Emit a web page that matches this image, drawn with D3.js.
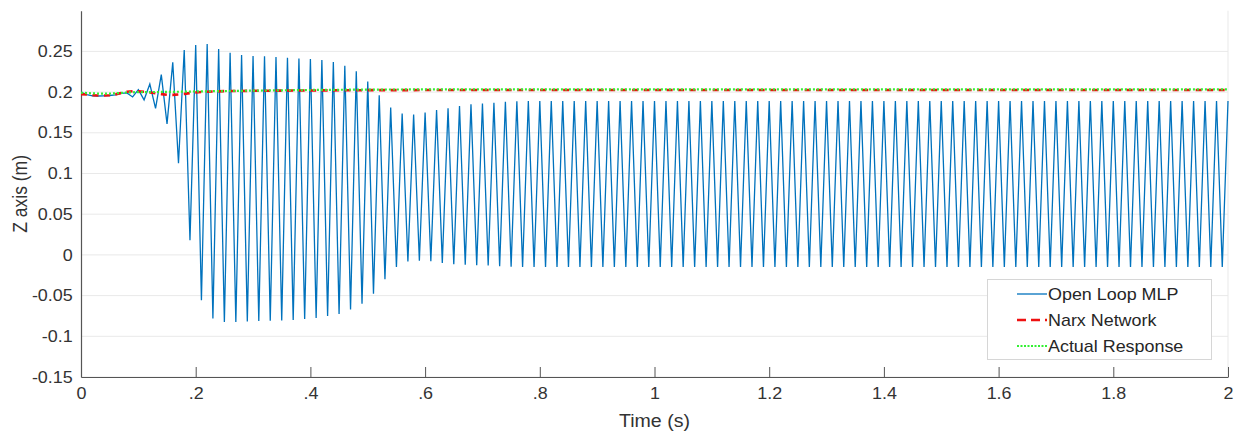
<!DOCTYPE html>
<html>
<head>
<meta charset="utf-8">
<script src="https://cdn.jsdelivr.net/npm/d3@7"></script>
<style>
  html, body { margin: 0; padding: 0; background: #ffffff; }
  svg { display: block; font-family: "Liberation Sans", Arial, sans-serif; }
</style>
</head>
<body>
<svg id="chart" width="1235" height="433"></svg>
<script>
// ---------------- data ----------------
const sampleStep = 0.01; // s between samples of the open-loop MLP trace

const openLoopMLP = [
  0.2000, 0.1970, 0.1955, 0.1952, 0.1953, 0.1958, 0.1965, 0.1985, 0.1990, 0.1940,
  0.2030, 0.1905, 0.2098, 0.1800, 0.2215, 0.1610, 0.2365, 0.1125, 0.2517, 0.0180,
  0.2578, -0.0558, 0.2590, -0.0780, 0.2529, -0.0825, 0.2483, -0.0825, 0.2455, -0.0817,
  0.2443, -0.0813, 0.2439, -0.0810, 0.2430, -0.0805, 0.2422, -0.0800, 0.2414, -0.0788,
  0.2406, -0.0776, 0.2394, -0.0751, 0.2369, -0.0727, 0.2324, -0.0670, 0.2255, -0.0599,
  0.2130, -0.0476, 0.1962, -0.0300, 0.1810, -0.0148, 0.1738, -0.0082, 0.1726, -0.0071,
  0.1750, -0.0079, 0.1779, -0.0100, 0.1800, -0.0115, 0.1828, -0.0120, 0.1849, -0.0128,
  0.1861, -0.0131, 0.1869, -0.0140, 0.1881, -0.0145, 0.1887, -0.0147, 0.1890, -0.0148,
  0.1890, -0.0148, 0.1890, -0.0148, 0.1890, -0.0148, 0.1890, -0.0148, 0.1890, -0.0148,
  0.1890, -0.0148, 0.1890, -0.0148, 0.1890, -0.0148, 0.1890, -0.0148, 0.1890, -0.0148,
  0.1890, -0.0148, 0.1890, -0.0148, 0.1890, -0.0148, 0.1890, -0.0148, 0.1890, -0.0148,
  0.1890, -0.0148, 0.1890, -0.0148, 0.1890, -0.0148, 0.1890, -0.0148, 0.1890, -0.0148,
  0.1890, -0.0148, 0.1890, -0.0148, 0.1890, -0.0148, 0.1890, -0.0148, 0.1890, -0.0148,
  0.1890, -0.0148, 0.1890, -0.0148, 0.1890, -0.0148, 0.1890, -0.0148, 0.1890, -0.0148,
  0.1890, -0.0148, 0.1890, -0.0148, 0.1890, -0.0148, 0.1890, -0.0148, 0.1890, -0.0148,
  0.1890, -0.0148, 0.1890, -0.0148, 0.1890, -0.0148, 0.1890, -0.0148, 0.1890, -0.0148,
  0.1890, -0.0148, 0.1890, -0.0148, 0.1890, -0.0148, 0.1890, -0.0148, 0.1890, -0.0148,
  0.1890, -0.0148, 0.1890, -0.0148, 0.1890, -0.0148, 0.1890, -0.0148, 0.1890, -0.0148,
  0.1890, -0.0148, 0.1890, -0.0148, 0.1890, -0.0148, 0.1890, -0.0148, 0.1890, -0.0148,
  0.1890, -0.0148, 0.1890, -0.0148, 0.1890, -0.0148, 0.1890, -0.0148, 0.1890, -0.0148,
  0.1890
];

const narxTime = [0, 0.01, 0.02, 0.03, 0.04, 0.05, 0.06, 0.07, 0.08, 0.09, 0.10, 0.11, 0.12, 0.13, 0.14,
                  0.15, 0.16, 0.17, 0.18, 0.19, 0.20, 0.22, 0.25, 0.30, 0.40, 0.50, 0.60, 1.00, 2.00];
const narxNetwork = [0.1975, 0.1970, 0.1962, 0.1958, 0.1958, 0.1962, 0.1972, 0.1990, 0.2005, 0.2010,
                     0.2010, 0.2005, 0.1995, 0.1985, 0.1975, 0.1968, 0.1966, 0.1970, 0.1978, 0.1988,
                     0.1996, 0.2005, 0.2012, 0.2016, 0.2020, 0.2024, 0.2025, 0.2025, 0.2025];

const actualTime = [0, 0.02, 0.04, 0.06, 0.08, 0.10, 0.15, 0.20, 0.30, 0.40, 0.50, 0.60, 2.00];
const actualResponse = [0.1992, 0.1985, 0.1980, 0.1985, 0.1995, 0.2000, 0.2002, 0.2008, 0.2018,
                        0.2026, 0.2031, 0.2033, 0.2033];

const xTicks = [0, 0.2, 0.4, 0.6, 0.8, 1, 1.2, 1.4, 1.6, 1.8, 2];
const xTickLabels = ["0", ".2", ".4", ".6", ".8", "1", "1.2", "1.4", "1.6", "1.8", "2"];
const yTicks = [-0.15, -0.1, -0.05, 0, 0.05, 0.1, 0.15, 0.2, 0.25];
const yTickLabels = ["-0.15", "-0.1", "-0.05", "0", "0.05", "0.1", "0.15", "0.2", "0.25"];

const seriesNames = ["Open Loop MLP", "Narx Network", "Actual Response"];
const seriesColors = ["#0072BD", "#ee1111", "#33f033"];

// ---------------- layout ----------------
(function draw() {
const svg = d3.select("#chart");
const pL = 81, pR = 1228, pT = 10.7, pB = 377;
const stretch = 1.12;
const textColor = "#333333";

const x = d3.scaleLinear().domain([0, 2]).range([pL, pR]);
const y = d3.scaleLinear().domain([-0.15, 0.3]).range([pB, pT]);

// gridlines
svg.append("g").selectAll("line").data(yTicks).join("line")
  .attr("x1", pL).attr("x2", pR)
  .attr("y1", d => y(d)).attr("y2", d => y(d))
  .attr("stroke", "#e9e9e9").attr("stroke-width", 1);
svg.append("line")
  .attr("x1", x(2)).attr("x2", x(2)).attr("y1", pT).attr("y2", pB)
  .attr("stroke", "#e9e9e9").attr("stroke-width", 1);

// x axis
const xAxis = d3.axisBottom(x).tickValues(xTicks)
  .tickFormat((d, i) => xTickLabels[i]).tickSizeInner(-10).tickSizeOuter(0);
const gx = svg.append("g").attr("transform", `translate(0,${pB})`).call(xAxis);
gx.select(".domain").attr("stroke", "#555").attr("stroke-width", 1.2);
gx.selectAll(".tick line").attr("stroke", "#555").attr("stroke-width", 1);
gx.selectAll(".tick text")
  .attr("y", 10.5).attr("fill", textColor).attr("font-size", 16)
  .attr("font-family", "Liberation Sans, Arial, sans-serif")
  .attr("transform", `scale(${stretch},1)`);

// y axis
const yAxis = d3.axisLeft(y).tickValues(yTicks)
  .tickFormat((d, i) => yTickLabels[i]).tickSizeInner(0).tickSizeOuter(0).tickPadding(8);
const gy = svg.append("g").attr("transform", `translate(${pL},0)`).call(yAxis);
gy.select(".domain").attr("stroke", "#555").attr("stroke-width", 1.2);
gy.selectAll(".tick text")
  .attr("x", -8.3 / stretch).attr("fill", textColor).attr("font-size", 16)
  .attr("font-family", "Liberation Sans, Arial, sans-serif")
  .attr("transform", `scale(${stretch},1)`);

// axis titles
svg.append("text")
  .attr("transform", `translate(${(pL + pR) / 2},427) scale(${stretch},1)`)
  .attr("text-anchor", "middle").attr("fill", textColor).attr("font-size", 17.5)
  .text("Time (s)");
svg.append("text")
  .attr("transform", `translate(27,${(pT + pB) / 2}) rotate(-90) scale(1,${stretch})`)
  .attr("text-anchor", "middle").attr("fill", textColor).attr("font-size", 17.5)
  .text("Z axis (m)");

// ---------------- series ----------------
svg.append("clipPath").attr("id", "plotclip").append("rect")
  .attr("x", pL).attr("y", pT - 2).attr("width", pR - pL + 1).attr("height", pB - pT + 2);

const plot = svg.append("g").attr("clip-path", "url(#plotclip)");
const line = d3.line().x(d => x(d[0])).y(d => y(d[1]));

plot.append("path")
  .datum(openLoopMLP.map((v, i) => [i * sampleStep, v]))
  .attr("d", line).attr("fill", "none")
  .attr("stroke", seriesColors[0]).attr("stroke-width", 1.3).attr("stroke-linejoin", "miter");

plot.append("path")
  .datum(narxTime.map((t, i) => [t, narxNetwork[i]]))
  .attr("d", line).attr("fill", "none")
  .attr("stroke", seriesColors[1]).attr("stroke-width", 2.6)
  .attr("stroke-dasharray", "6,5.5");

plot.append("path")
  .datum(actualTime.map((t, i) => [t, actualResponse[i]]))
  .attr("d", line).attr("fill", "none")
  .attr("stroke", seriesColors[2]).attr("stroke-width", 2.2)
  .attr("stroke-dasharray", "2,2");

// ---------------- legend ----------------
const lg = svg.append("g");
lg.append("rect")
  .attr("x", 987.5).attr("y", 279.5).attr("width", 224).attr("height", 80)
  .attr("fill", "#ffffff").attr("stroke", "#d6d6d6").attr("stroke-width", 1);

const rowY = [294, 320, 346];
const dashes = [null, "9,5", "2,1.5"];
const widths = [1.3, 2.6, 2.2];
seriesNames.forEach((name, i) => {
  lg.append("line")
    .attr("x1", 1017).attr("x2", 1047).attr("y1", rowY[i]).attr("y2", rowY[i])
    .attr("stroke", seriesColors[i]).attr("stroke-width", widths[i])
    .attr("stroke-dasharray", dashes[i]);
  lg.append("text")
    .attr("transform", `translate(1048,${rowY[i] + 5.8}) scale(${stretch},1)`)
    .attr("fill", "#262626").attr("font-size", 16)
    .text(name);
});
})();
</script>
</body>
</html>
